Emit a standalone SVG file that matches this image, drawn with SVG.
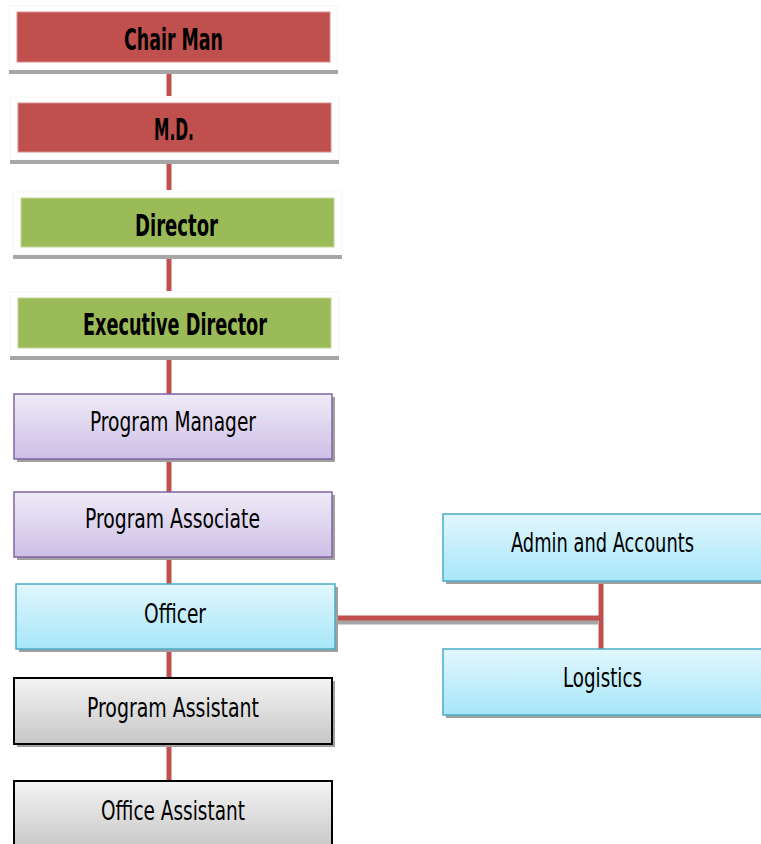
<svg xmlns="http://www.w3.org/2000/svg" width="761" height="844" viewBox="0 0 761 844">
<defs>
<linearGradient id="gPurple" x1="0" y1="0" x2="0" y2="1"><stop offset="0" stop-color="#EFEBF7"/><stop offset="1" stop-color="#CDBFE6"/></linearGradient>
<linearGradient id="gBlue" x1="0" y1="0" x2="0" y2="1"><stop offset="0" stop-color="#E2F7FD"/><stop offset="1" stop-color="#A6E6F9"/></linearGradient>
<linearGradient id="gGray" x1="0" y1="0" x2="0" y2="1"><stop offset="0" stop-color="#F4F4F4"/><stop offset="1" stop-color="#C6C6C6"/></linearGradient>
</defs>
<style>
.back{fill:#FFFFFF;stroke:#F6F6F6;stroke-width:1}
.bline{fill:#A6A6A6}
.red{fill:#C0504D;stroke:#D98F8D;stroke-width:1}
.green{fill:#9BBB59;stroke:#C3D69B;stroke-width:1}
.shadow{fill:#A0A0A0}
.purple{fill:url(#gPurple);stroke:#8064A2;stroke-width:1.5}
.blue{fill:url(#gBlue);stroke:#4BACC6;stroke-width:1.5}
.gray{fill:url(#gGray);stroke:#000000;stroke-width:2}
.conn{stroke:#C0504D;stroke-width:5;fill:none}
.cshadow{stroke:#A6A6A6;stroke-width:5;fill:none}
text{font-family:"DejaVu Sans Condensed","DejaVu Sans",sans-serif;font-stretch:condensed;fill:#000000;text-anchor:middle}
.b{font-weight:bold;font-size:30px}
.r{font-size:26px}
</style>
<g id="connectors">
<line class="conn" x1="169" y1="74" x2="169" y2="96"/>
<line class="conn" x1="169" y1="164" x2="169" y2="190"/>
<line class="conn" x1="169" y1="259" x2="169" y2="291"/>
<line class="conn" x1="169" y1="360" x2="169" y2="394"/>
<line class="conn" x1="169" y1="460" x2="169" y2="492"/>
<line class="conn" x1="169" y1="558" x2="169" y2="584"/>
<line class="conn" x1="169" y1="650" x2="169" y2="678"/>
<line class="conn" x1="169" y1="745" x2="169" y2="781"/>
<line class="cshadow" x1="336" y1="622" x2="598" y2="622"/>
<line class="conn" x1="336" y1="618" x2="601" y2="618"/>
<line class="conn" x1="601" y1="582" x2="601" y2="649"/>
</g>
<g id="chairman">
<rect class="back" x="9" y="6" width="328" height="64"/>
<rect class="bline" x="9" y="70" width="329" height="4"/>
<rect class="red" x="17" y="12" width="313" height="50"/>
<text class="b" x="173.5" y="50" textLength="99" lengthAdjust="spacingAndGlyphs">Chair Man</text>
</g>
<g id="md">
<rect class="back" x="10" y="97" width="329" height="63"/>
<rect class="bline" x="10" y="160" width="329" height="4"/>
<rect class="red" x="18" y="103" width="313" height="49"/>
<text class="b" x="174" y="140" textLength="40" lengthAdjust="spacingAndGlyphs">M.D.</text>
</g>
<g id="director">
<rect class="back" x="13" y="192" width="329" height="63"/>
<rect class="bline" x="13" y="255" width="329" height="4"/>
<rect class="green" x="21" y="198" width="313" height="49"/>
<text class="b" x="176.5" y="236" textLength="83" lengthAdjust="spacingAndGlyphs">Director</text>
</g>
<g id="executive-director">
<rect class="back" x="10" y="292" width="329" height="64"/>
<rect class="bline" x="10" y="356" width="329" height="4"/>
<rect class="green" x="18" y="298" width="313" height="50"/>
<text class="b" x="175" y="335" textLength="184" lengthAdjust="spacingAndGlyphs">Executive Director</text>
</g>
<g id="program-manager">
<rect class="shadow" x="17" y="397" width="318" height="65"/>
<rect class="purple" x="14" y="394" width="318" height="65"/>
<text class="r" x="173" y="431" textLength="166" lengthAdjust="spacingAndGlyphs">Program Manager</text>
</g>
<g id="program-associate">
<rect class="shadow" x="17" y="495" width="318" height="65"/>
<rect class="purple" x="14" y="492" width="318" height="65"/>
<text class="r" x="172.5" y="528" textLength="175" lengthAdjust="spacingAndGlyphs">Program Associate</text>
</g>
<g id="officer">
<rect class="shadow" x="19" y="587" width="319" height="65"/>
<rect class="blue" x="16" y="584" width="319" height="65"/>
<text class="r" x="175" y="623" textLength="62" lengthAdjust="spacingAndGlyphs">Officer</text>
</g>
<g id="admin-accounts">
<rect class="shadow" x="446" y="517" width="320" height="67"/>
<rect class="blue" x="443" y="514" width="320" height="67"/>
<text class="r" x="602.5" y="552" textLength="183" lengthAdjust="spacingAndGlyphs">Admin and Accounts</text>
</g>
<g id="logistics">
<rect class="shadow" x="446" y="652" width="320" height="66"/>
<rect class="blue" x="443" y="649" width="320" height="66"/>
<text class="r" x="602.5" y="687" textLength="79" lengthAdjust="spacingAndGlyphs">Logistics</text>
</g>
<g id="program-assistant">
<rect class="shadow" x="17" y="681" width="318" height="66"/>
<rect class="gray" x="14" y="678" width="318" height="66"/>
<text class="r" x="173" y="717" textLength="172" lengthAdjust="spacingAndGlyphs">Program Assistant</text>
</g>
<g id="office-assistant">
<rect class="gray" x="14" y="781" width="318" height="70"/>
<text class="r" x="173" y="820" textLength="144" lengthAdjust="spacingAndGlyphs">Office Assistant</text>
</g>
</svg>
